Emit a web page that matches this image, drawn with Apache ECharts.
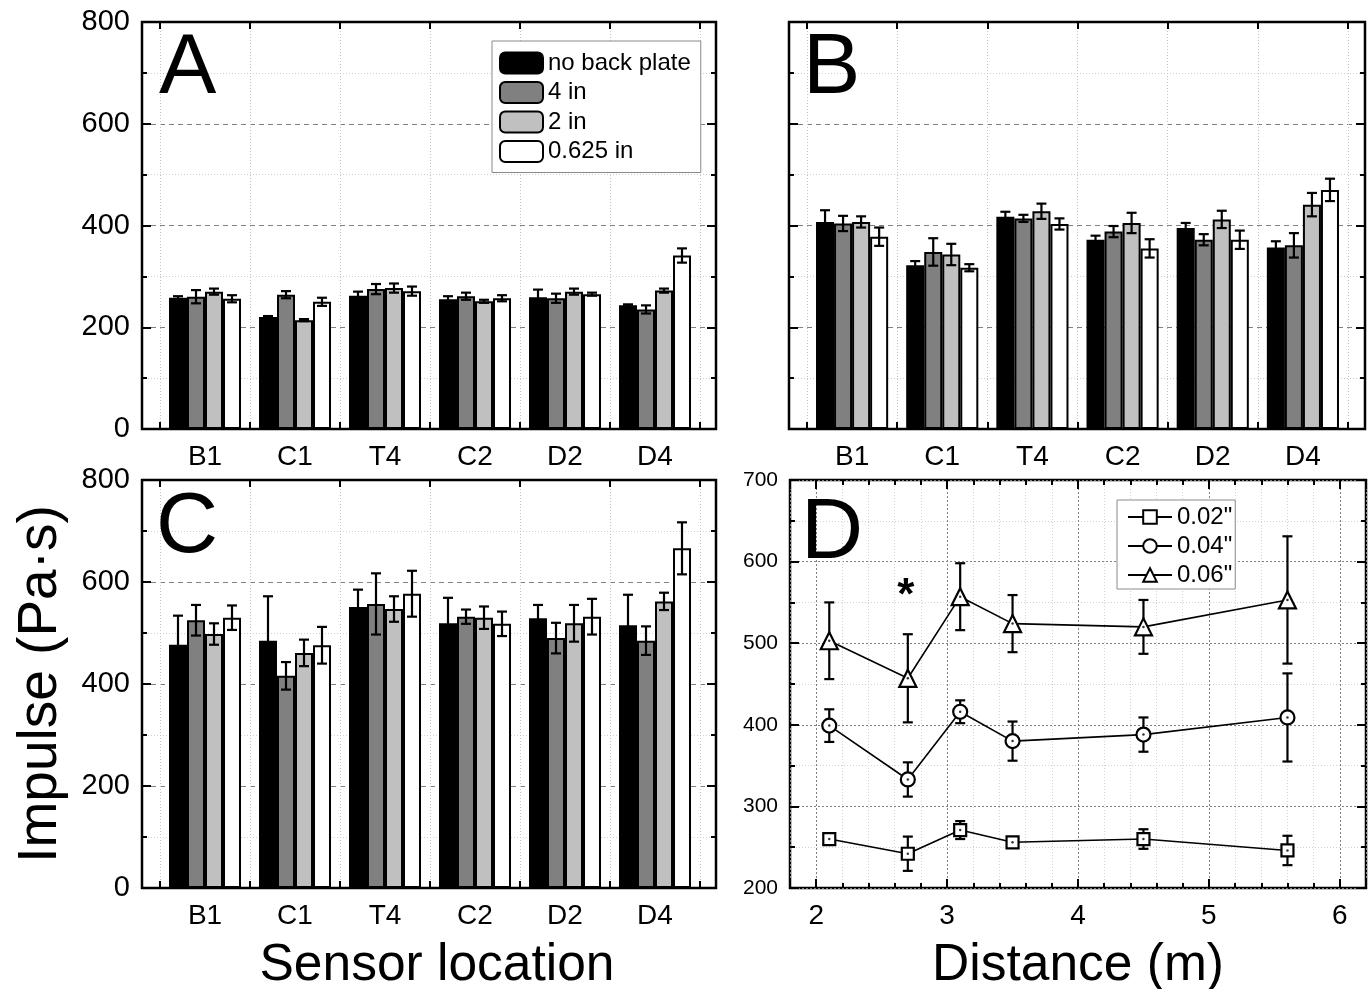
<!DOCTYPE html>
<html><head><meta charset="utf-8">
<script src="https://cdn.jsdelivr.net/npm/echarts@6/dist/echarts.min.js"></script>
<style>html,body{margin:0;padding:0;background:#fff}#c{width:1372px;height:989px}</style>
</head><body><div id="c"></div>
<script>
// ---------- data ----------
const categories = ['B1', 'C1', 'T4', 'C2', 'D2', 'D4'];
const seriesNames = ['no back plate', '4 in', '2 in', '0.625 in'];
const barYTicks = [0, 200, 400, 600, 800];

// Panel A
const A_noPlate = [258, 220, 262, 255, 259, 243];
const A_noPlateErr = [3, 2, 8, 6, 15, 2];
const A_4in = [260, 264, 275, 261, 257, 235];
const A_4inErr = [13, 7, 10, 7, 9, 8];
const A_2in = [270, 214, 277, 251, 270, 272];
const A_2inErr = [6, 2, 9, 3, 6, 4];
const A_0625 = [256, 250, 271, 257, 265, 341];
const A_0625Err = [7, 8, 9, 6, 3, 14];

// Panel B
const B_noPlate = [407, 322, 417, 372, 395, 357];
const B_noPlateErr = [23, 8, 10, 8, 10, 12];
const B_4in = [404, 348, 414, 388, 372, 361];
const B_4inErr = [15, 27, 7, 11, 11, 24];
const B_2in = [407, 343, 428, 405, 412, 441];
const B_2inErr = [11, 21, 15, 20, 17, 23];
const B_0625 = [378, 317, 403, 355, 372, 470];
const B_0625Err = [18, 7, 11, 18, 18, 22];

// Panel C
const C_noPlate = [477, 485, 551, 519, 529, 515];
const C_noPlateErr = [57, 87, 34, 50, 26, 60];
const C_4in = [525, 416, 557, 532, 490, 485];
const C_4inErr = [30, 27, 60, 14, 30, 28];
const C_2in = [498, 461, 547, 530, 519, 562];
const C_2inErr = [21, 26, 25, 22, 36, 17];
const C_0625 = [530, 476, 577, 518, 532, 666];
const C_0625Err = [24, 36, 45, 24, 35, 51];

// Panel D
const dNames = ['0.02"', '0.04"', '0.06"'];
const distances = [2.1, 2.7, 3.1, 3.5, 4.5, 5.6];
const D_002 = [260, 242, 271, 256, 260, 246];
const D_002Err = [7, 21, 11, 5, 12, 18];
const D_004 = [399, 333, 416, 380, 388, 409];
const D_004Err = [20, 21, 14, 24, 21, 54];
const D_006 = [503, 457, 557, 524, 520, 553];
const D_006Err = [47, 54, 41, 35, 33, 78];
const dYTicks = [200, 300, 400, 500, 600, 700];
const dXRange = [1.8, 6.2];
const asteriskAt = [2.7, 572];

// ---------- styling ----------
const FONT = '"Liberation Sans", Arial, Helvetica, sans-serif';
const barFill = ['#000000', '#808080', '#c0c0c0', '#ffffff'];
const dSymbols = ['rect', 'circle', 'triangle'];
const dSymbolSizes = [12, 14, 17];
const GRID_BASE = {outerBoundsMode: 'none', containLabel: false};

const panels = [
  { letter: 'A', frame: {left: 142, top: 22, width: 574, height: 407}, bars: {left: 160, top: 22, width: 540, height: 407},
    yLabels: true, means: [A_noPlate, A_4in, A_2in, A_0625], errs: [A_noPlateErr, A_4inErr, A_2inErr, A_0625Err],
    letterPos: [159, 69] },
  { letter: 'B', frame: {left: 789, top: 22, width: 576, height: 407}, bars: {left: 807, top: 22, width: 541, height: 407},
    yLabels: false, means: [B_noPlate, B_4in, B_2in, B_0625], errs: [B_noPlateErr, B_4inErr, B_2inErr, B_0625Err],
    letterPos: [803, 69] },
  { letter: 'C', frame: {left: 142, top: 480, width: 574, height: 408}, bars: {left: 160, top: 480, width: 540, height: 408},
    yLabels: true, means: [C_noPlate, C_4in, C_2in, C_0625], errs: [C_noPlateErr, C_4inErr, C_2inErr, C_0625Err],
    letterPos: [156, 528], xName: 'Sensor location', yName: 'Impulse (Pa·s)' }
];

const grid = [], xAxis = [], yAxis = [], series = [], graphic = [];

function errLine(x1, y1, x2, y2) {
  return { type: 'line', shape: {x1, y1, x2, y2}, style: {stroke: '#000', lineWidth: 2.2}, silent: true };
}

panels.forEach((p) => {
  const gF = grid.length;
  grid.push(Object.assign({show: true, borderColor: '#000', borderWidth: 2.5, backgroundColor: 'transparent', z: 1}, GRID_BASE, p.frame));
  const gB = grid.length;
  grid.push(Object.assign({show: false}, GRID_BASE, p.bars));

  const yMin = barYTicks[0], yMax = barYTicks[barYTicks.length - 1], yInt = barYTicks[1] - barYTicks[0];

  // frame axes
  xAxis.push({gridIndex: gF, type: 'value', min: 0, max: 1, show: false});
  const frameY = (pos, labels) => ({
    gridIndex: gF, type: 'value', position: pos, min: yMin, max: yMax, interval: yInt,
    axisLine: {show: false},
    axisTick: {show: true, inside: true, length: 9, lineStyle: {color: '#000', width: 2}},
    minorTick: {show: true, splitNumber: 2, length: 5, lineStyle: {color: '#000', width: 2}},
    axisLabel: {show: labels, fontSize: 29, color: '#000', fontFamily: FONT, margin: 12},
    splitLine: {show: pos === 'left', lineStyle: {color: '#808080', type: [5, 4], width: 1}},
    minorSplitLine: {show: pos === 'left', lineStyle: {color: '#cfcfcf', type: [1, 2], width: 1}}
  });
  const yLeft = frameY('left', p.yLabels);
  if (p.yName) {
    Object.assign(yLeft, {name: p.yName, nameLocation: 'middle', nameGap: 74, nameRotate: 90,
      nameTextStyle: {fontSize: 55, color: '#000', fontFamily: FONT}});
  }
  yAxis.push(yLeft);
  yAxis.push(frameY('right', false));

  // bar axes
  const xb = xAxis.length;
  const xBottom = {
    gridIndex: gB, type: 'category', data: categories, position: 'bottom', boundaryGap: true,
    axisLine: {show: false},
    axisTick: {show: true, inside: true, length: 7, lineStyle: {color: '#000', width: 2}},
    axisLabel: {fontSize: 28, color: '#000', fontFamily: FONT, margin: 14},
    splitLine: {show: true, lineStyle: {color: '#c4c4c4', type: [1, 2], width: 1}}
  };
  if (p.xName) {
    Object.assign(xBottom, {name: p.xName, nameLocation: 'middle', nameGap: 52,
      nameTextStyle: {fontSize: 51.5, color: '#000', fontFamily: FONT, padding: [0, 0, 0, 14]}});
  }
  xAxis.push(xBottom);
  xAxis.push({
    gridIndex: gB, type: 'category', data: categories, position: 'top', boundaryGap: true,
    axisLine: {show: false}, axisLabel: {show: false},
    axisTick: {show: true, inside: true, length: 7, lineStyle: {color: '#000', width: 2}},
    splitLine: {show: false}
  });
  const yb = yAxis.length;
  yAxis.push({gridIndex: gB, type: 'value', min: yMin, max: yMax, interval: yInt, show: false});

  p.means.forEach((vals, k) => {
    series.push({
      type: 'bar', name: seriesNames[k], xAxisIndex: xb, yAxisIndex: yb, data: vals,
      barGap: '0%', barCategoryGap: '20%', z: 2,
      itemStyle: {color: barFill[k], borderColor: '#000', borderWidth: 2},
      emphasis: {disabled: true}
    });
  });
  p.means.forEach((vals, k) => {
    const errs = p.errs[k];
    series.push({
      type: 'custom', name: 'err-' + p.letter + k, xAxisIndex: xb, yAxisIndex: yb, z: 4, silent: true,
      data: vals.map((v, i) => [i, v, errs[i]]),
      encode: {x: 0, y: 1},
      renderItem: (params, api) => {
        const ci = api.value(0), v = api.value(1), e = api.value(2);
        const band = api.size([1, 0])[0];
        const w = band * 0.8 / 4;
        const c = api.coord([ci, v]);
        const cx = c[0] + (k - 1.5) * w;
        const yt = api.coord([ci, v + e])[1];
        const yb2 = api.coord([ci, v - e])[1];
        const cap = 5;
        return {type: 'group', children: [
          errLine(cx, yt, cx, yb2), errLine(cx - cap, yt, cx + cap, yt), errLine(cx - cap, yb2, cx + cap, yb2)
        ]};
      }
    });
  });

  graphic.push({type: 'text', x: p.letterPos[0], y: p.letterPos[1], z: 10,
    style: {text: p.letter, font: '86px ' + FONT, fill: '#000', verticalAlign: 'middle', align: 'left'}});
});

// ---------- panel D ----------
const gD = grid.length;
grid.push(Object.assign({left: 790, top: 480, width: 576, height: 408, show: true, borderColor: '#000', borderWidth: 2.5, backgroundColor: 'transparent'}, GRID_BASE));
const xD = xAxis.length;
xAxis.push({
  gridIndex: gD, type: 'value', position: 'bottom', min: dXRange[0], max: dXRange[1], splitNumber: 4,
  axisLine: {show: false},
  axisTick: {show: true, inside: true, length: 9, lineStyle: {color: '#000', width: 2}},
  minorTick: {show: true, splitNumber: 5, length: 5, lineStyle: {color: '#000', width: 2}},
  axisLabel: {fontSize: 28, color: '#000', fontFamily: FONT, margin: 14, showMinLabel: false, showMaxLabel: false},
  splitLine: {show: true, lineStyle: {color: '#808080', type: [2, 2], width: 1}},
  minorSplitLine: {show: true, lineStyle: {color: '#d2d2d2', type: [1, 2], width: 1}},
  name: 'Distance (m)', nameLocation: 'middle', nameGap: 52,
  nameTextStyle: {fontSize: 51.5, color: '#000', fontFamily: FONT}
});
xAxis.push({
  gridIndex: gD, type: 'value', position: 'top', min: dXRange[0], max: dXRange[1], splitNumber: 4,
  axisLine: {show: false}, axisLabel: {show: false}, splitLine: {show: false},
  axisTick: {show: true, inside: true, length: 9, lineStyle: {color: '#000', width: 2}},
  minorTick: {show: true, splitNumber: 5, length: 5, lineStyle: {color: '#000', width: 2}}
});
const yD = yAxis.length;
const dyMin = dYTicks[0], dyMax = dYTicks[dYTicks.length - 1], dyInt = dYTicks[1] - dYTicks[0];
yAxis.push({
  gridIndex: gD, type: 'value', position: 'left', min: dyMin, max: dyMax, interval: dyInt,
  axisLine: {show: false},
  axisTick: {show: true, inside: true, length: 9, lineStyle: {color: '#000', width: 2}},
  minorTick: {show: true, splitNumber: 2, length: 5, lineStyle: {color: '#000', width: 2}},
  axisLabel: {fontSize: 21, color: '#000', fontFamily: FONT, margin: 12},
  splitLine: {show: true, lineStyle: {color: '#808080', type: [2, 2], width: 1}},
  minorSplitLine: {show: true, lineStyle: {color: '#d2d2d2', type: [1, 2], width: 1}}
});
yAxis.push({
  gridIndex: gD, type: 'value', position: 'right', min: dyMin, max: dyMax, interval: dyInt,
  axisLine: {show: false}, axisLabel: {show: false}, splitLine: {show: false},
  axisTick: {show: true, inside: true, length: 9, lineStyle: {color: '#000', width: 2}},
  minorTick: {show: true, splitNumber: 2, length: 5, lineStyle: {color: '#000', width: 2}}
});

const dMeans = [D_002, D_004, D_006];
const dErrs = [D_002Err, D_004Err, D_006Err];
dMeans.forEach((vals, k) => {
  const errs = dErrs[k];
  series.push({
    type: 'custom', name: 'derr' + k, xAxisIndex: xD, yAxisIndex: yD, z: 3, silent: true,
    data: vals.map((v, i) => [distances[i], v, errs[i]]),
    encode: {x: 0, y: 1},
    renderItem: (params, api) => {
      const x = api.value(0), v = api.value(1), e = api.value(2);
      const cx = api.coord([x, v])[0];
      const yt = api.coord([x, v + e])[1];
      const yb2 = api.coord([x, v - e])[1];
      const cap = 5;
      return {type: 'group', children: [
        errLine(cx, yt, cx, yb2), errLine(cx - cap, yt, cx + cap, yt), errLine(cx - cap, yb2, cx + cap, yb2)
      ]};
    }
  });
  const lineSeries = {
    type: 'line', name: dNames[k], xAxisIndex: xD, yAxisIndex: yD, z: 5,
    data: vals.map((v, i) => [distances[i], v]),
    symbol: dSymbols[k], symbolSize: dSymbolSizes[k], showAllSymbol: true,
    lineStyle: {color: '#000', width: 1.6},
    itemStyle: {color: '#fff', borderColor: '#000', borderWidth: 2.2},
    emphasis: {disabled: true}
  };
  if (k === 2) {
    lineSeries.markPoint = {
      symbol: 'circle', symbolSize: 1, itemStyle: {color: 'rgba(0,0,0,0)'}, silent: true,
      label: {show: true, position: 'inside', formatter: '*', fontSize: 44, fontWeight: 'bold', color: '#000', fontFamily: FONT, offset: [-2, 12]},
      data: [{coord: asteriskAt}]
    };
  }
  series.push(lineSeries);
  series.push({
    type: 'scatter', name: 'dot' + k, xAxisIndex: xD, yAxisIndex: yD, z: 6, silent: true,
    data: vals.map((v, i) => [distances[i], v]),
    symbol: 'circle', symbolSize: 2.5, itemStyle: {color: '#000'}
  });
});

graphic.push({type: 'text', x: 801, y: 534, z: 10,
  style: {text: 'D', font: '86px ' + FONT, fill: '#000', verticalAlign: 'middle', align: 'left'}});

const option = {
  animation: false,
  backgroundColor: '#fff',
  textStyle: {fontFamily: FONT, color: '#000'},
  grid, xAxis, yAxis, series, graphic,
  legend: [
    {
      data: seriesNames, orient: 'vertical', left: 492, top: 41,
      padding: [10, 10, 9, 7], itemWidth: 43, itemHeight: 21, itemGap: 5.5,
      borderColor: '#8a8a8a', borderWidth: 1, backgroundColor: '#fff', selectedMode: false,
      textStyle: {fontSize: 24, color: '#000', fontFamily: FONT}
    },
    {
      data: dNames, orient: 'vertical', left: 1117, top: 500,
      padding: [5, 3, 2, 10], itemWidth: 44, itemHeight: 17, itemGap: 5,
      borderColor: '#8a8a8a', borderWidth: 1, backgroundColor: '#fff', selectedMode: false,
      textStyle: {fontSize: 24, color: '#000', fontFamily: FONT}
    }
  ]
};
const chart = echarts.init(document.getElementById('c'), null, {renderer: 'canvas'});
chart.setOption(option);
</script>
</body></html>
